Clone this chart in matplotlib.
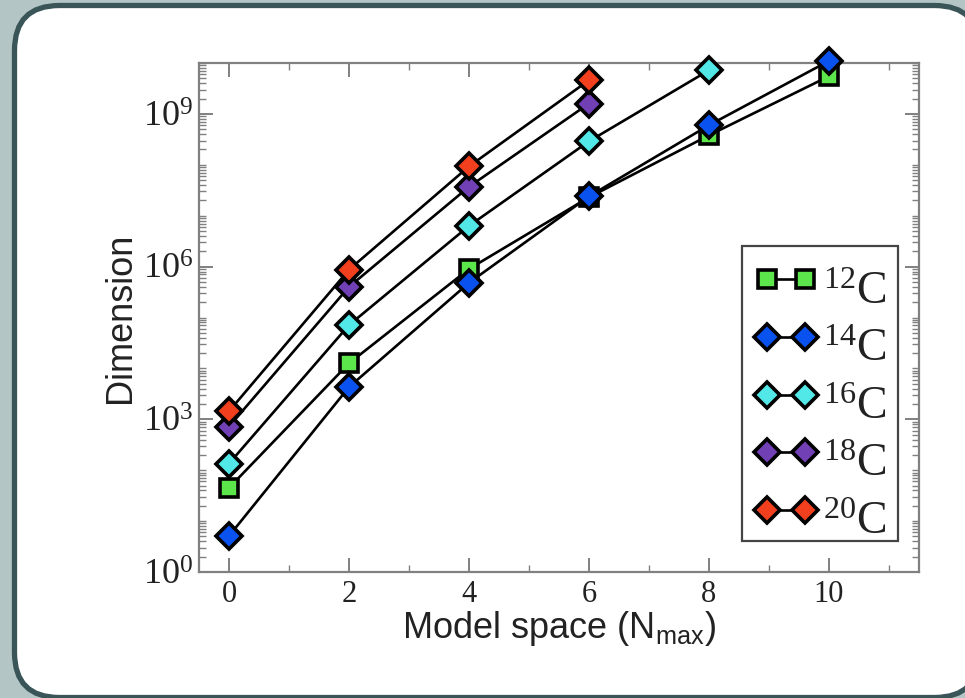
import numpy as np
import matplotlib
matplotlib.use("Agg")
import matplotlib.pyplot as plt
from matplotlib.patches import FancyBboxPatch
from matplotlib.legend_handler import HandlerLine2D
from matplotlib.ticker import FixedLocator, LogLocator, NullFormatter, FuncFormatter

# ---- data ----
nmax_12 = [0, 2, 4, 6, 8, 10]
dim_12 = [45, 1.26e4, 9.0e5, 2.3e7, 3.8e8, 5.5e9]
nmax_14 = [0, 2, 4, 6, 8, 10]
dim_14 = [5.1, 4.3e3, 4.8e5, 2.4e7, 6.0e8, 1.1e10]
nmax_16 = [0, 2, 4, 6, 8]
dim_16 = [135, 7.1e4, 6.3e6, 2.9e8, 7.2e9]
nmax_18 = [0, 2, 4, 6]
dim_18 = [720, 4.0e5, 3.7e7, 1.6e9]
nmax_20 = [0, 2, 4, 6]
dim_20 = [1440, 8.7e5, 9.3e7, 4.6e9]
labels = [r'$\mathregular{^{12}C}$', r'$\mathregular{^{14}C}$', r'$\mathregular{^{16}C}$',
          r'$\mathregular{^{18}C}$', r'$\mathregular{^{20}C}$']
x_ticks = [0, 2, 4, 6, 8, 10]
y_ticks = [1, 1e3, 1e6, 1e9]

W, H = 965, 698
fig = plt.figure(figsize=(W / 100, H / 100), dpi=100)
fig.patch.set_facecolor('#b4c5c5')

# slide frame
bg = fig.add_axes([0, 0, 1, 1], zorder=-10)
bg.set_xlim(0, W)
bg.set_ylim(H, 0)
bg.axis('off')
bg.add_patch(FancyBboxPatch((14.5, 5.5), 965, 692, boxstyle='round,pad=0,rounding_size=45',
                            facecolor='white', edgecolor='#3a5557', linewidth=3.8))

ax = fig.add_axes([199 / W, 1 - 572 / H, 720 / W, 509 / H])
ax.set_facecolor('white')

series = [
    (nmax_12, dim_12, 's', '#5de64b', 13.5),
    (nmax_14, dim_14, 'D', '#0a52f0', 13),
    (nmax_16, dim_16, 'D', '#52e8e8', 13),
    (nmax_18, dim_18, 'D', '#7040b4', 13),
    (nmax_20, dim_20, 'D', '#f2401e', 13),
]
for (x, y, m, c, ms), lab in zip(series, labels):
    ax.plot(x, y, color='black', lw=1.9, marker=m, markersize=ms, markerfacecolor=c,
            markeredgecolor='black', markeredgewidth=2.6, label=lab, clip_on=False, zorder=3)

ax.set_yscale('log')
ax.set_xlim(-0.5, 11.5)
ax.set_ylim(1, 1e10)

ax.xaxis.set_major_locator(FixedLocator(x_ticks))
ax.xaxis.set_minor_locator(FixedLocator([-1, 1, 3, 5, 7, 9, 11]))
ax.yaxis.set_major_locator(FixedLocator(y_ticks))
ax.yaxis.set_minor_locator(LogLocator(base=10, subs=np.arange(1, 10), numticks=200))
ax.yaxis.set_minor_formatter(NullFormatter())
ax.yaxis.set_major_formatter(FuncFormatter(lambda v, p: r'$\mathregular{10^{%d}}$' % round(np.log10(v))))

for sp in ax.spines.values():
    sp.set_color('#808080')
    sp.set_linewidth(1.6)

ax.tick_params(which='both', direction='in', top=True, right=True, colors='#808080',
               labelcolor='#222222')
ax.tick_params(which='major', length=10, width=1.4)
ax.tick_params(which='minor', length=5, width=1.0)
ax.tick_params(axis='x', which='major', labelsize=22, pad=6)
ax.tick_params(axis='y', which='major', labelsize=26, pad=4)
for t in ax.get_xticklabels() + ax.get_yticklabels():
    t.set_fontfamily('Liberation Serif')

ax.set_xlabel(r'Model space (N$_{\mathregular{max}}$)', fontsize=26,
              fontfamily='Liberation Sans', color='#222222', labelpad=0)
ax.set_ylabel('Dimension', fontsize=26, fontfamily='Liberation Sans', color='#222222', labelpad=4)


class ShiftedLine(HandlerLine2D):
    """Legend handle with a small vertical shift of line and markers."""
    def create_artists(self, legend, orig_handle, xdescent, ydescent, width, height,
                       fontsize, trans):
        arts = super().create_artists(legend, orig_handle, xdescent, ydescent, width,
                                      height, fontsize, trans)
        for a in arts:
            a.set_ydata(np.asarray(a.get_ydata(), dtype=float) - 4.3)
        return arts


leg = ax.legend(loc='upper left', bbox_to_anchor=((742 - 199) / 720, (572 - 246) / 509),
                borderaxespad=0, numpoints=2, handlelength=1.43, handletextpad=0.1,
                labelspacing=0.33, borderpad=0.24, fancybox=False, framealpha=1,
                edgecolor='#444444', prop={'family': 'Liberation Serif', 'size': 33},
                handler_map={matplotlib.lines.Line2D: ShiftedLine()})
leg.set_zorder(5)
leg.get_frame().set_linewidth(1.6)
for t in leg.get_texts():
    t.set_color('#222222')
    t.set_y(-14)  # lower the label text inside its slot (display pixels)

fig.savefig('out.png', dpi=100, facecolor=fig.get_facecolor())
